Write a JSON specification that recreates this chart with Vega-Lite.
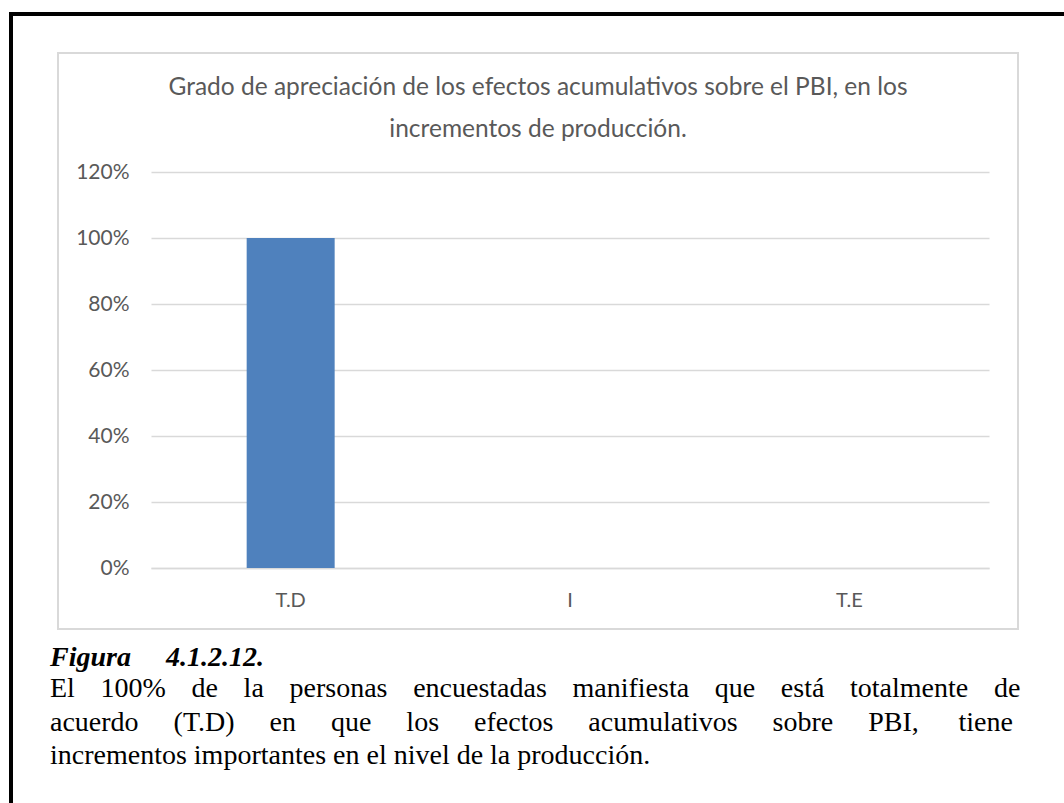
{
  "$schema": "https://vega.github.io/schema/vega-lite/v6.json",
  "width": 838,
  "height": 396,
  "autosize": {"type": "none"},
  "padding": {"left": 151, "top": 172, "right": 75, "bottom": 235},
  "background": "white",
  "config": {"view": {"stroke": null}},
  "layer": [
    {
      "data": {"values": [{"k": 1}]},
      "mark": {"type": "rect", "x": -93, "x2": 867, "y": -119, "y2": 457, "fill": null, "fillOpacity": 0, "stroke": "#d9d9d9", "strokeWidth": 2},
      "encoding": {}
    },
    {
      "data": {"values": [{"k": 1}]},
      "mark": {"type": "rect", "x": -142, "x2": 913, "y": -160, "y2": -156, "fill": "black"},
      "encoding": {}
    },
    {
      "data": {"values": [{"k": 1}]},
      "mark": {"type": "rect", "x": -142, "x2": -138, "y": -160, "y2": 640, "fill": "black"},
      "encoding": {}
    },
    {
      "data": {"values": [
        {"linea": 1, "t": "Grado de apreciación de los efectos acumulativos sobre el PBI, en los"},
        {"linea": 2, "t": "incrementos de producción."}
      ]},
      "mark": {"type": "text", "x": 387, "align": "center", "baseline": "middle", "font": "Lato", "fontSize": 24.5, "color": "#595959"},
      "encoding": {
        "text": {"field": "t"},
        "y": {"field": "linea", "type": "ordinal", "scale": {"type": "point", "range": [-84, -42], "padding": 0}, "axis": null}
      }
    },
    {
      "data": {"values": [
        {"categoria": "T.D", "porcentaje": 1.0},
        {"categoria": "I", "porcentaje": 0},
        {"categoria": "T.E", "porcentaje": 0}
      ]},
      "mark": {"type": "bar", "color": "#4f81bd"},
      "encoding": {
        "x": {
          "field": "categoria", "type": "nominal", "sort": null,
          "scale": {"paddingInner": 0.685, "paddingOuter": 0.3425},
          "axis": {"title": null, "labelAngle": 0, "labelFont": "Lato", "labelFontSize": 20, "labelColor": "#595959", "labelPadding": 22, "ticks": false, "domain": true, "domainColor": "#d9d9d9", "domainWidth": 1.5}
        },
        "y": {
          "field": "porcentaje", "type": "quantitative",
          "scale": {"domain": [0, 1.2], "nice": false},
          "axis": {"title": null, "values": [0, 0.2, 0.4, 0.6, 0.8, 1.0, 1.2], "format": ".0%", "labelFont": "Lato", "labelFontSize": 21, "labelColor": "#595959", "labelPadding": 22, "ticks": false, "domain": false, "grid": true, "gridColor": "#d9d9d9", "gridWidth": 1.5}
        }
      }
    },
    {
      "data": {"values": [{"t": "Figura\u00a0\u00a0\u00a0\u00a0\u00a04.1.2.12."}]},
      "mark": {"type": "text", "x": -101, "y": 494, "align": "left", "baseline": "alphabetic", "font": "Liberation Serif", "fontSize": 28, "fontWeight": "bold", "fontStyle": "italic", "color": "black"},
      "encoding": {"text": {"field": "t"}}
    },
    {
      "data": {"values": [
        {"line": 1, "t": "El \u00a0\u00a0\u2006100% \u00a0\u00a0\u2006de \u00a0\u00a0\u2006la \u00a0\u00a0\u2006personas \u00a0\u00a0\u2006encuestadas \u00a0\u00a0\u2006manifiesta \u00a0\u00a0\u2006que \u00a0\u00a0\u2006está \u00a0\u00a0\u2006totalmente \u00a0\u00a0\u2006de"},
        {"line": 2, "t": "acuerdo \u00a0\u00a0\u00a0\u00a0(T.D) \u00a0\u00a0\u00a0\u00a0en \u00a0\u00a0\u00a0\u00a0que \u00a0\u00a0\u00a0\u00a0los \u00a0\u00a0\u00a0\u00a0efectos \u00a0\u00a0\u00a0\u00a0acumulativos \u00a0\u00a0\u00a0\u00a0sobre \u00a0\u00a0\u00a0\u00a0PBI, \u00a0\u00a0\u00a0\u00a0\u2006tiene"},
        {"line": 3, "t": "incrementos importantes en el nivel de la producción."}
      ]},
      "mark": {"type": "text", "x": -101, "align": "left", "baseline": "alphabetic", "font": "Liberation Serif", "fontSize": 28, "color": "black"},
      "encoding": {
        "text": {"field": "t"},
        "y": {"field": "line", "type": "ordinal", "scale": {"type": "point", "range": [525, 592], "padding": 0}, "axis": null}
      }
    }
  ]
}
